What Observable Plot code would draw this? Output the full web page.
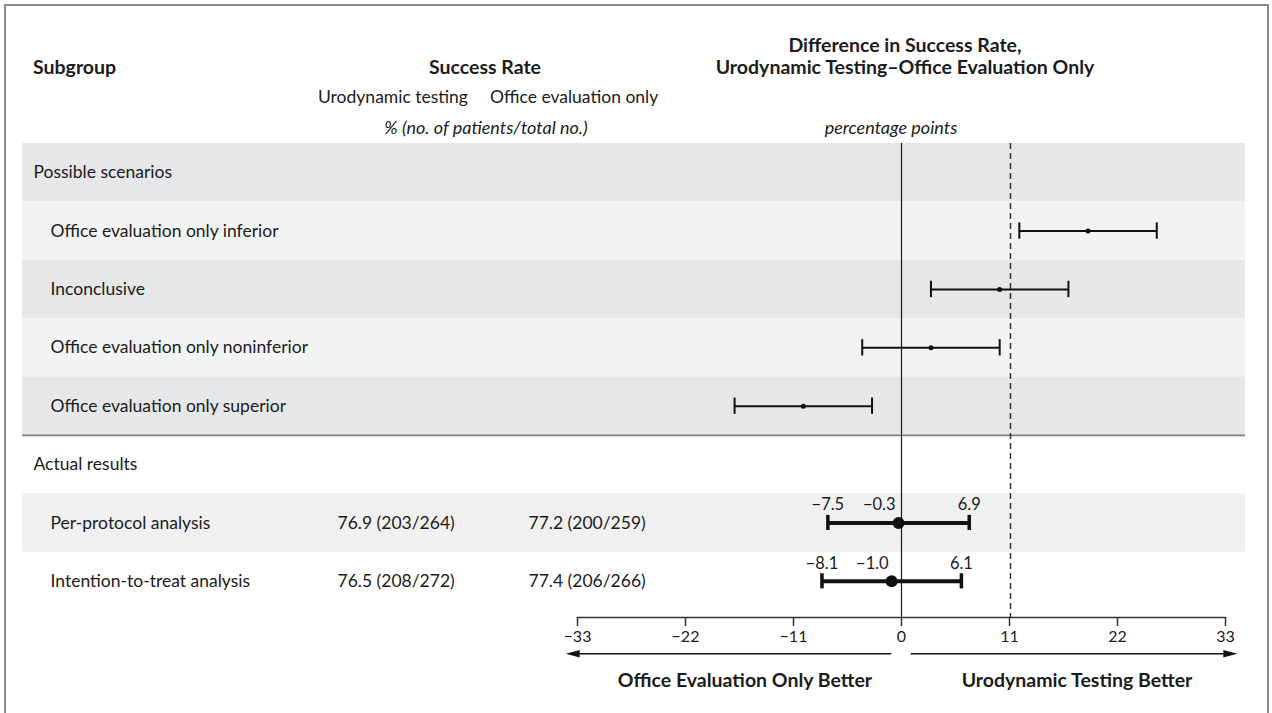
<!DOCTYPE html>
<html>
<head>
<meta charset="utf-8">
<script src="https://cdn.jsdelivr.net/npm/d3@7"></script>
<script src="https://cdn.jsdelivr.net/npm/@observablehq/plot@0.6"></script>
<style>
  html, body { margin: 0; padding: 0; background: #fff; }
  body { font-family: Lato, "Open Sans", sans-serif; color: #1c1c1c; }
  #wrap { position: relative; width: 1272px; height: 713px; overflow: hidden; }
  #border { position: absolute; left: 4px; top: 4px; width: 1265px; height: 760px; border: 2px solid #8a8a8a; box-sizing: border-box; border-bottom: none; }
  .t { position: absolute; white-space: nowrap; line-height: 22px; font-size: 17.5px; }
  .b { font-weight: bold; font-size: 19.5px; }
  .c { transform: translateX(-50%); }
  .i { font-style: italic; font-size: 18px; }
  #chart { position: absolute; left: 0; top: 0; }
</style>
</head>
<body>
<div id="wrap">
  <div id="border"></div>
  <div id="chart"></div>
  <div class="t b" style="left:33px; top:56px;">Subgroup</div>
  <div class="t b c" style="left:485px; top:56px;">Success Rate</div>
  <div class="t b c" style="left:905px; top:34px;">Difference in Success Rate,</div>
  <div class="t b c" style="left:905px; top:56px;">Urodynamic Testing–Office Evaluation Only</div>
  <div class="t" style="left:318px; top:86px;">Urodynamic testing</div>
  <div class="t" style="left:490px; top:86px;">Office evaluation only</div>
  <div class="t i c" style="left:486px; top:116px;">% (no. of patients/total no.)</div>
  <div class="t i c" style="left:891px; top:116px;">percentage points</div>
  <div class="t b c" style="left:745px; top:669px;">Office Evaluation Only Better</div>
  <div class="t b c" style="left:1077px; top:669px;">Urodynamic Testing Better</div>
</div>
<script>
// ---- data ----
const sections = ["Possible scenarios", "Actual results"];
const scenarioRows = ["Office evaluation only inferior", "Inconclusive", "Office evaluation only noninferior", "Office evaluation only superior"];
const scenarioEst = [19, 10, 3, -10];
const scenarioLo = [12, 3, -4, -17];
const scenarioHi = [26, 17, 10, -3];
const actualRows = ["Per-protocol analysis", "Intention-to-treat analysis"];
const urodynamicRate = ["76.9 (203/264)", "76.5 (208/272)"];
const officeRate = ["77.2 (200/259)", "77.4 (206/266)"];
const actualEst = [-0.3, -1.0];
const actualLo = [-7.5, -8.1];
const actualHi = [6.9, 6.1];
const xTicks = [-33, -22, -11, 0, 11, 22, 33];
const nullLine = [0];
const marginLine = [11];

// ---- build table ----
const rows = [];
rows.push({label: sections[0], kind: "section", group: 0, pos: 0});
scenarioRows.forEach((l, i) => rows.push({label: l, kind: "item", group: 0, pos: i + 1, est: scenarioEst[i], lo: scenarioLo[i], hi: scenarioHi[i]}));
rows.push({label: sections[1], kind: "section", group: 1, pos: 0});
actualRows.forEach((l, i) => rows.push({label: l, kind: "item", group: 1, pos: i + 1, est: actualEst[i], lo: actualLo[i], hi: actualHi[i], uro: urodynamicRate[i], off: officeRate[i]}));
rows.forEach((r, i) => r.idx = i);

const scen = rows.filter(r => r.group === 0 && r.kind === "item");
const act = rows.filter(r => r.group === 1 && r.kind === "item");
const bandFill = r => r.group === 0 ? (r.pos % 2 === 0 ? "#e6e7e9" : "#f2f3f3") : (r.pos % 2 === 1 ? "#f0f0f0" : null);
const bands = rows.filter(r => bandFill(r));
const fmt = d3.format(".1f");
const capH = 0.14;
const arrowY = rows.length + 0.24;
const [dMin, dMax] = d3.extent(xTicks);
const arrows = [
  {from: -1, to: dMin - 0.6, tip: dMin - 1.2, rot: -90},
  {from: 1, to: dMax + 0.6, tip: dMax + 1.2, rot: 90}
];
const txt = "#1c1c1c";
const fs = 17.5;

const plot = Plot.plot({
  width: 1272,
  height: 713,
  marginLeft: 577,
  marginRight: 47,
  marginTop: 143,
  marginBottom: 96,
  style: {fontFamily: "Lato, 'Open Sans', sans-serif", fontSize: "16px", color: txt, background: "transparent"},
  x: {domain: [dMin, dMax]},
  y: {domain: [-0.5, rows.length - 0.5], range: [143, 610], axis: null},
  marks: [
    Plot.rect(bands, {y1: d => d.idx - 0.5, y2: d => d.idx + 0.5, fill: bandFill, insetLeft: -555, insetRight: -20}),
    Plot.ruleY([rows.find(r => r.group === 1).idx - 0.5], {stroke: "#808080", strokeWidth: 1.6, insetLeft: -555, insetRight: -20}),
    Plot.ruleX(nullLine, {stroke: "#1a1a1a", strokeWidth: 1.2}),
    Plot.ruleX(marginLine, {stroke: "#333", strokeWidth: 1.5, strokeDasharray: "6,4", dx: 1}),
    // left text columns
    Plot.text(rows.filter(r => r.kind === "section"), {y: "idx", text: "label", frameAnchor: "left", textAnchor: "start", dx: -544, fontSize: fs, fill: txt}),
    Plot.text(rows.filter(r => r.kind === "item"), {y: "idx", text: "label", frameAnchor: "left", textAnchor: "start", dx: -527, fontSize: fs, fill: txt}),
    Plot.text(act, {y: "idx", text: "uro", frameAnchor: "left", textAnchor: "start", dx: -240, fontSize: fs, fill: txt}),
    Plot.text(act, {y: "idx", text: "off", frameAnchor: "left", textAnchor: "start", dx: -49, fontSize: fs, fill: txt}),
    // scenario intervals
    Plot.ruleY(scen, {x1: "lo", x2: "hi", y: "idx", stroke: "#111", strokeWidth: 2}),
    Plot.ruleX(scen, {x: "lo", y1: d => d.idx - capH, y2: d => d.idx + capH, stroke: "#111", strokeWidth: 2}),
    Plot.ruleX(scen, {x: "hi", y1: d => d.idx - capH, y2: d => d.idx + capH, stroke: "#111", strokeWidth: 2}),
    Plot.dot(scen, {x: "est", y: "idx", r: 2.5, fill: "#111", stroke: null}),
    // actual intervals
    Plot.ruleY(act, {x1: "lo", x2: "hi", y: "idx", stroke: "#111", strokeWidth: 4}),
    Plot.ruleX(act, {x: "lo", y1: d => d.idx - 0.13, y2: d => d.idx + 0.13, stroke: "#111", strokeWidth: 3.5}),
    Plot.ruleX(act, {x: "hi", y1: d => d.idx - 0.13, y2: d => d.idx + 0.13, stroke: "#111", strokeWidth: 3.5}),
    Plot.dot(act, {x: "est", y: "idx", r: 6, fill: "#111", stroke: null}),
    Plot.text(act, {x: "lo", y: "idx", text: d => fmt(d.lo), dy: -18, fontSize: 16.5, fill: txt}),
    Plot.text(act, {x: "hi", y: "idx", text: d => fmt(d.hi), dy: -18, fontSize: 16.5, fill: txt}),
    Plot.text(act, {x: "est", y: "idx", text: d => fmt(d.est), dy: -18, dx: -3, textAnchor: "end", fontSize: 16.5, fill: txt}),
    // axis
    Plot.frame({anchor: "bottom", stroke: "#333", strokeWidth: 1.5}),
    Plot.axisX({ticks: xTicks, tickSize: 9, tickPadding: 4, fontSize: 16, label: null, stroke: "#333", strokeWidth: 1.5, color: txt}),
    // direction arrows
    Plot.ruleY(arrows, {x1: "from", x2: "to", y: () => arrowY, stroke: "#111", strokeWidth: 1.5}),
    Plot.vector(arrows, {x: "tip", y: () => arrowY, rotate: "rot", length: 14, r: 3.8, shape: "spike", anchor: "end", fill: "#111", stroke: null})
  ]
});
document.getElementById("chart").appendChild(plot);
</script>
</body>
</html>
